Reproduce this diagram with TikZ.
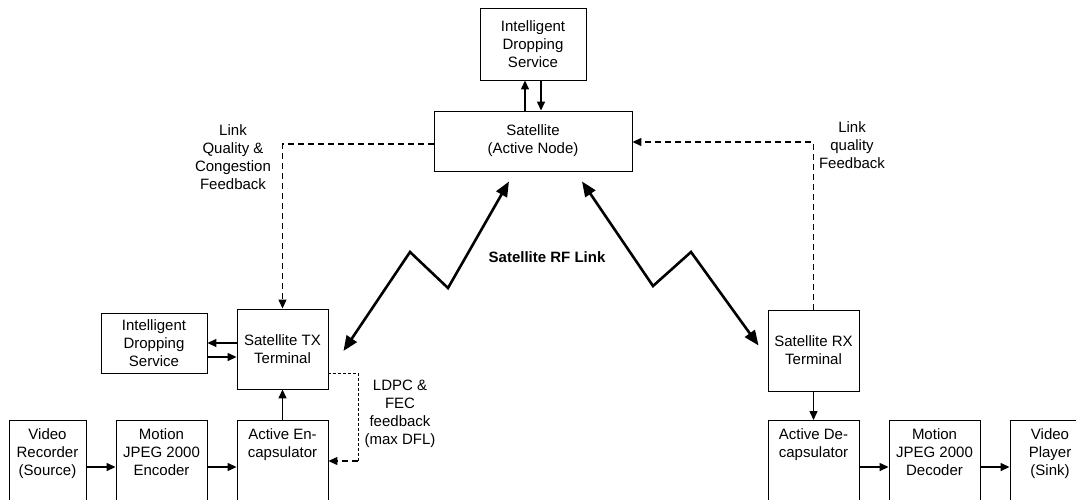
\documentclass[tikz,border=0pt]{standalone}
\usepackage{fontspec}
\setmainfont{Liberation Sans}
\usetikzlibrary{arrows.meta}
\begin{document}
\begin{tikzpicture}[x=1pt,y=-1pt,
    font=\fontsize{15}{18}\selectfont,
    >={Triangle[length=9pt,width=8pt]},
    blk/.style={draw,line width=0.9pt,align=center,inner sep=2pt},
    cutblk/.style={blk,anchor=north,text depth=60pt,inner ysep=8pt},
    fb/.style={line width=1.3pt,dash pattern=on 6pt off 4pt},
    finefb/.style={line width=0.8pt,dash pattern=on 3pt off 2pt},
    rf/.style={line width=2.6pt,<->,>={Triangle[length=15pt,width=12pt]}},
    con/.style={line width=1.4pt,->}]
  \useasboundingbox (0,0) rectangle (1076,499);
  \clip (0,0) rectangle (1076,499);

  % upper part
  \node[blk,minimum width=106pt,minimum height=72pt] (idstop) at (533,44) {Intelligent\\Dropping\\Service};
  \node[blk,minimum width=198pt,minimum height=60pt] (sat) at (533,141) {Satellite\\(Active Node)};
  \node[blk,minimum width=106pt,minimum height=60pt] (idsl) at (154,343) {Intelligent\\Dropping\\Service};
  \node[blk,minimum width=91pt,minimum height=80pt] (tx) at (282.5,349) {Satellite TX\\Terminal};
  \node[blk,minimum width=91pt,minimum height=81pt] (rx) at (813.5,350.5) {Satellite RX\\Terminal};

  % bottom row, cut by the page edge
  \node[cutblk,minimum width=77pt] (vrec) at (47.5,420) {Video\\Recorder\\(Source)};
  \node[cutblk,minimum width=91pt] (jenc) at (161.5,420) {Motion\\JPEG 2000\\Encoder};
  \node[cutblk,minimum width=91pt] (aenc) at (282.5,420) {Active En-\\capsulator};
  \node[cutblk,minimum width=91pt] (adec) at (813.5,420) {Active De-\\capsulator};
  \node[cutblk,minimum width=91pt] (jdec) at (934.5,420) {Motion\\JPEG 2000\\Decoder};
  \node[cutblk,minimum width=80pt] (vplay) at (1050,420) {Video\\Player\\(Sink)};

  % labels
  \node[align=center] (lqc) at (233,157) {Link\\Quality \&\\Congestion\\Feedback};
  \node[align=center] (lqf) at (852,145) {Link\\quality\\Feedback};
  \node[align=center] (ldpc) at (400,414) {LDPC \&\\FEC\\feedback\\(max DFL)};
  \node[font=\fontsize{15}{18}\selectfont\bfseries] (rfl) at (547,257) {Satellite RF Link};

  \draw[con] ([xshift=-8pt]sat.north) -- ([xshift=-8pt]idstop.south);
  \draw[con] ([xshift=8pt]idstop.south) -- ([xshift=8pt]sat.north);
  \draw[con] ([yshift=6pt]tx.west) -- ([yshift=6pt]tx.west -| idsl.east);
  \draw[con] ([yshift=-14pt]idsl.east) -- ([yshift=-14pt]idsl.east -| tx.west);

  \draw[con] ([yshift=-47pt]vrec.north east) -- ([yshift=-47pt]jenc.north west);
  \draw[con] ([yshift=-47pt]jenc.north east) -- ([yshift=-47pt]aenc.north west);
  \draw[con] (aenc.north) -- (tx.south);
  \draw[con] (rx.south) -- (adec.north);
  \draw[con] ([yshift=-47pt]adec.north east) -- ([yshift=-47pt]jdec.north west);
  \draw[con] ([yshift=-47pt]jdec.north east) -- ([yshift=-47pt]vplay.north west);

  % feedback loops
  \draw[fb,->] ([yshift=-3pt]sat.west) -| (tx.north);
  \draw[fb,->] (rx.north) |- ([yshift=-1pt]sat.east);
  \coordinate (fbk) at (358,461);
  \draw[finefb] ([yshift=-24pt]tx.east) -| (fbk);
  \draw[fb,->] (fbk) -- (fbk -| aenc.east);

  % RF link
  \coordinate (lpk) at (410,252);
  \coordinate (lvl) at (448,288);
  \coordinate (rvl) at (653,286);
  \coordinate (rpk) at (691,252);
  \draw[rf] ([shift={(15pt,-2pt)}]tx.east) -- (lpk) -- (lvl) -- ([shift={(-24pt,-10pt)}]sat.south);
  \draw[rf] ([shift={(49pt,-10pt)}]sat.south) -- (rvl) -- (rpk) -- ([shift={(-9pt,5pt)}]rx.west);
\end{tikzpicture}
\end{document}
